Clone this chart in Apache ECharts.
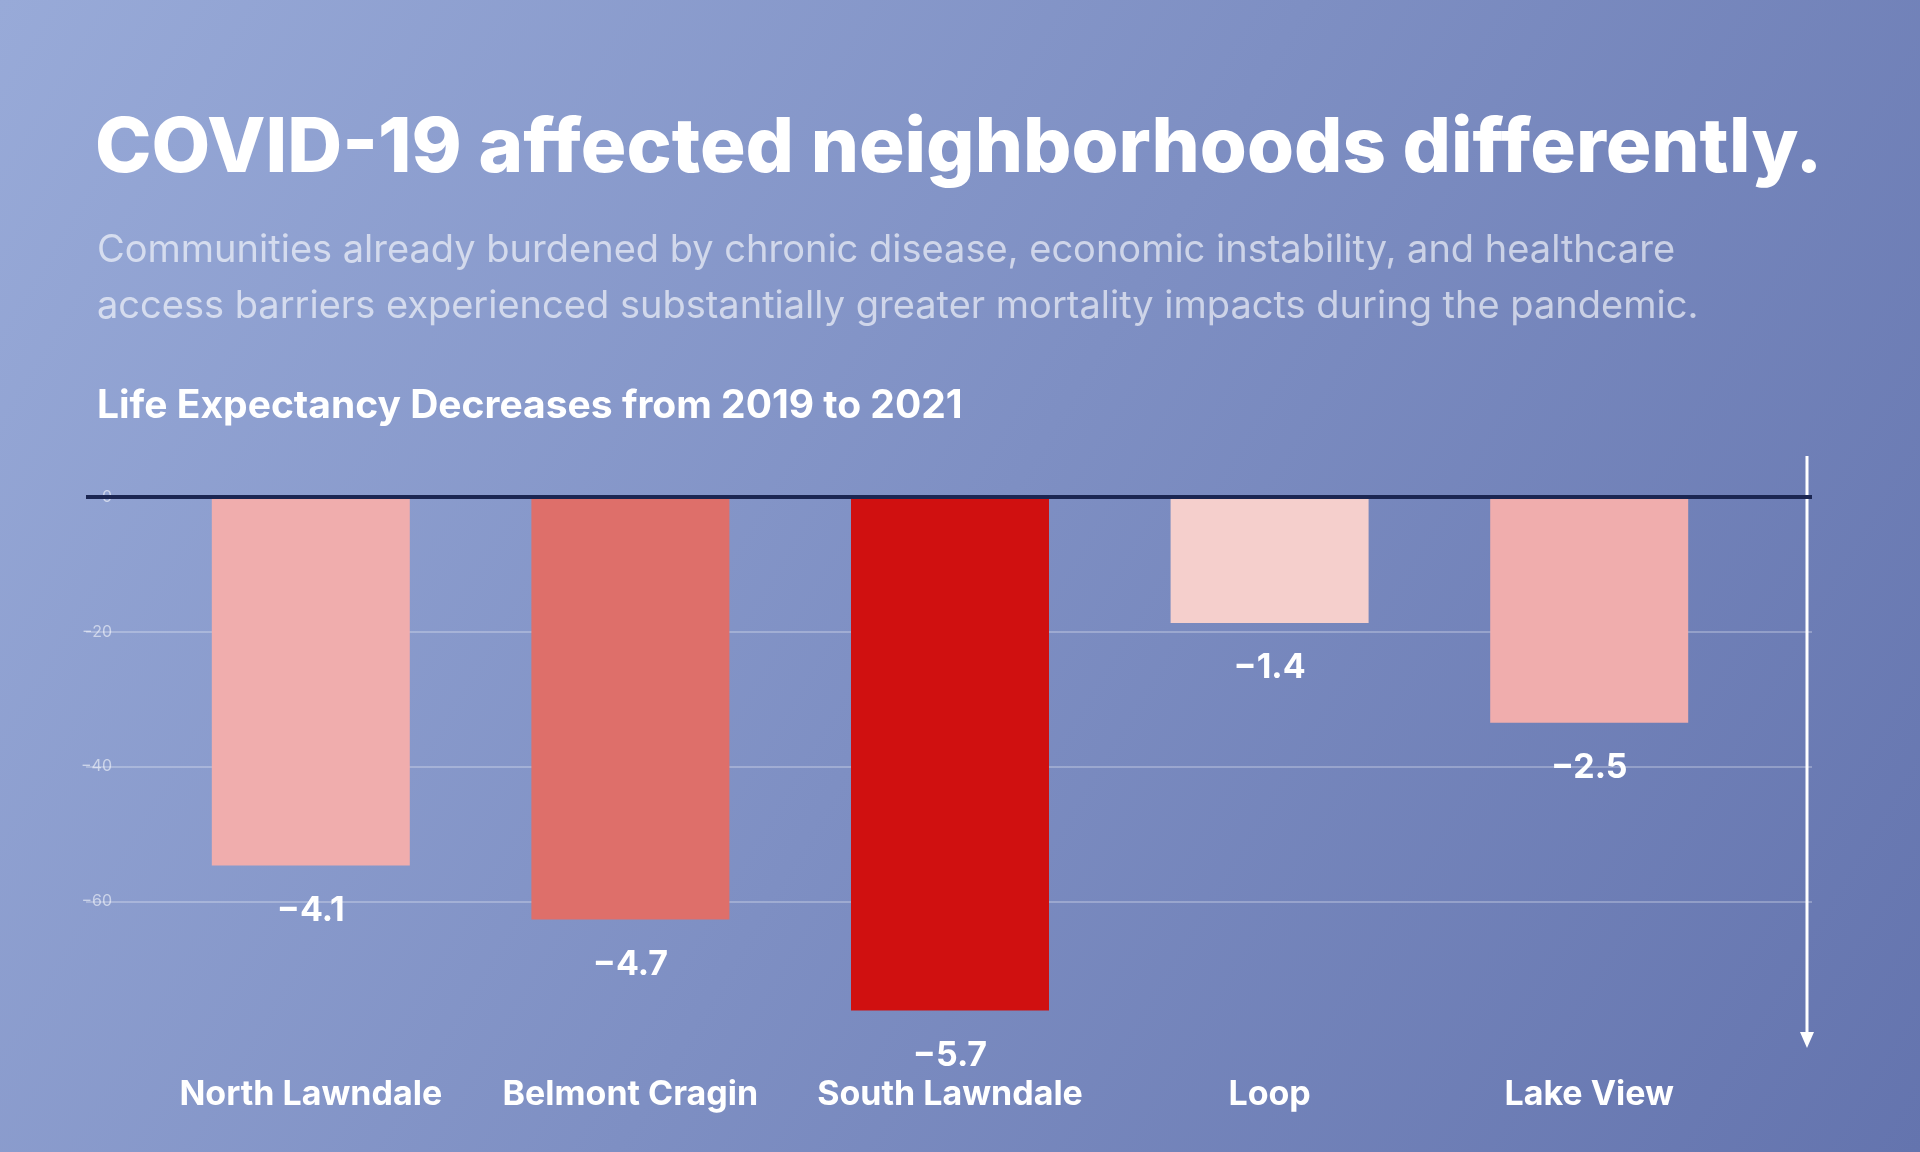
<!DOCTYPE html>
<html><head><meta charset="utf-8">
<script src="https://cdn.jsdelivr.net/npm/echarts@6/dist/echarts.min.js"></script>
<style>html,body{margin:0;padding:0;}#c{width:1920px;height:1152px;}</style>
</head><body><div id="c"></div>
<script>
const categories = ["North Lawndale","Belmont Cragin","South Lawndale","Loop","Lake View"];
const barValues = [-54.7,-62.7,-76.2,-18.7,-33.5];
const valueLabels = ["-4.1","-4.7","-5.7","-1.4","-2.5"];
const barColors = ["#f0adad","#de6f6a","#d01010","#f5cfcc","#f0adad"];
const yTicks = [0,-20,-40,-60];
const F = "Inter, 'Open Sans', sans-serif";
const chart = echarts.init(document.getElementById('c'));
chart.setOption({
  backgroundColor: new echarts.graphic.LinearGradient(0,0,1,1,[{offset:0,color:'#98aad8'},{offset:1,color:'#6474ae'}]),
  title:[
    {text:'COVID-19 affected neighborhoods differently.',left:90,top:106,textStyle:{color:'#fff',fontSize:76,fontWeight:800,fontFamily:F}},
    {text:'Communities already burdened by chronic disease, economic instability, and healthcare\naccess barriers experienced substantially greater mortality impacts during the pandemic.',left:92,top:218,textStyle:{color:'rgba(255,255,255,0.62)',fontSize:38,fontWeight:400,fontFamily:F,lineHeight:56}},
    {text:'Life Expectancy Decreases from 2019 to 2021',left:92,top:382,textStyle:{color:'#fff',fontSize:39,fontWeight:700,fontFamily:F}}
  ],
  grid:[
    {left:86,right:108,top:497,bottom:116},
    {left:151,right:171,top:497,bottom:116}
  ],
  xAxis:[
    {type:'category',gridIndex:0,data:[''],show:false},
    {type:'category',gridIndex:1,data:categories,axisLine:{show:false},axisTick:{show:false},
     axisLabel:{interval:0,color:'#fff',fontSize:34,fontWeight:700,fontFamily:F,margin:42}}
  ],
  yAxis:[
    {type:'value',gridIndex:0,min:-80,max:0,interval:20,
     axisLabel:{color:'rgba(255,255,255,0.55)',fontSize:16,fontFamily:F,margin:-26,showMinLabel:false,
       formatter:v=>yTicks.includes(v)?String(v).replace('-','\u2212'):''},
     splitLine:{showMinLine:false,lineStyle:{color:'rgba(255,255,255,0.35)',width:1.5}},axisLine:{show:false},axisTick:{show:false}},
    {type:'value',gridIndex:1,min:-80,max:0,interval:20,show:false,splitLine:{show:false}}
  ],
  series:[
    {type:'bar',xAxisIndex:1,yAxisIndex:1,barWidth:198,
     data:barValues.map((v,i)=>({value:v,itemStyle:{color:barColors[i]}})),
     label:{show:true,position:'bottom',distance:28,color:'#fff',fontSize:34,fontWeight:700,fontFamily:F,
       formatter:p=>valueLabels[p.dataIndex].replace('-','\u2212')}},
    {type:'line',xAxisIndex:0,yAxisIndex:0,data:[],
     markLine:{silent:true,symbol:'none',label:{show:false},lineStyle:{color:'#1b2652',width:4,type:'solid'},data:[{yAxis:0}]}}
  ],
  graphic:[
    {type:'line',shape:{x1:1807,y1:456,x2:1807,y2:1035},style:{stroke:'#fff',lineWidth:3}},
    {type:'polygon',shape:{points:[[1800,1032],[1814,1032],[1807,1048]]},style:{fill:'#fff'}}
  ]
});
</script></body></html>
